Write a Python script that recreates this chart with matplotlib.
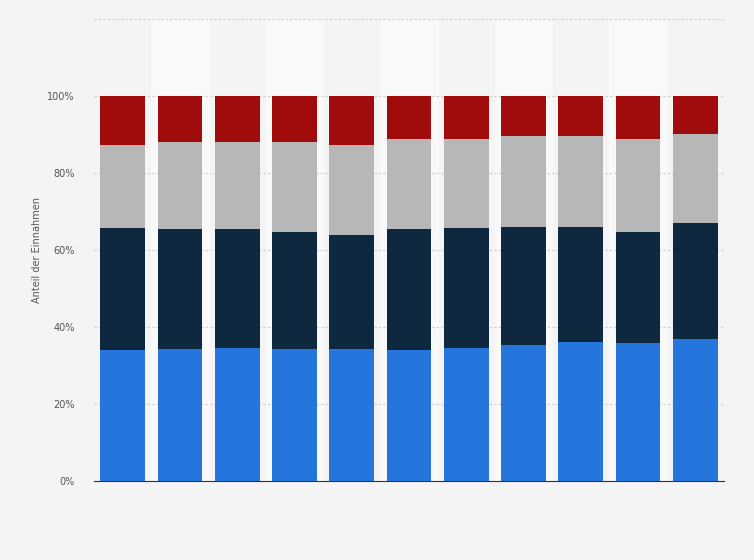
import matplotlib.pyplot as plt
import numpy as np

# cumulative tops (percent)
blue_vals = [33.9, 34.4, 34.6, 34.4, 34.4, 34.1, 34.6, 35.4, 36.2, 35.9, 37.0]
navy_top = [65.6, 65.4, 65.4, 64.6, 63.8, 65.4, 65.6, 65.9, 65.9, 64.8, 66.9]
gray_top = [87.2, 88.0, 88.0, 88.0, 87.2, 88.8, 88.8, 89.6, 89.6, 88.8, 90.1]
red_top = [100.0] * 11

blue = np.array(blue_vals)
navy = np.array(navy_top) - blue
gray = np.array(gray_top) - np.array(navy_top)
red = np.array(red_top) - np.array(gray_top)

fig = plt.figure(figsize=(7.54, 5.6), dpi=100)
fig.patch.set_facecolor('#f4f4f4')
ax = fig.add_axes([94 / 754, 79 / 560, 630 / 754, 462 / 560])
ax.set_facecolor('#f4f4f4')

x = np.arange(len(blue))
for i in x:
    if i % 2 == 1:
        ax.axvspan(i - 0.5, i + 0.5, color='#f9f9f9', zorder=0)

w = 0.78
ax.bar(x, blue, w, color='#2575dc', zorder=3)
ax.bar(x, navy, w, bottom=blue, color='#0e2840', zorder=3)
ax.bar(x, gray, w, bottom=blue + navy, color='#b7b7b7', zorder=3)
ax.bar(x, red, w, bottom=blue + navy + gray, color='#a00c0c', zorder=3)

ax.set_xlim(-0.5, len(blue) - 0.5)
ax.set_ylim(0, 120)
ax.set_yticks([0, 20, 40, 60, 80, 100, 120])
ax.set_yticklabels(['0%', '20%', '40%', '60%', '80%', '100%', ''], fontsize=7, color='#555555')
ax.yaxis.grid(True, linestyle=(0, (2, 2)), color='#cccccc', linewidth=0.8, zorder=1)
ax.set_xticks([])
ax.tick_params(axis='y', length=0, pad=14)
for s in ['top', 'right', 'left']:
    ax.spines[s].set_visible(False)
ax.spines['bottom'].set_color('#333333')
ax.set_ylabel('Anteil der Einnahmen', fontsize=7, color='#555555')

fig.savefig('out.png', dpi=100, facecolor=fig.get_facecolor())
